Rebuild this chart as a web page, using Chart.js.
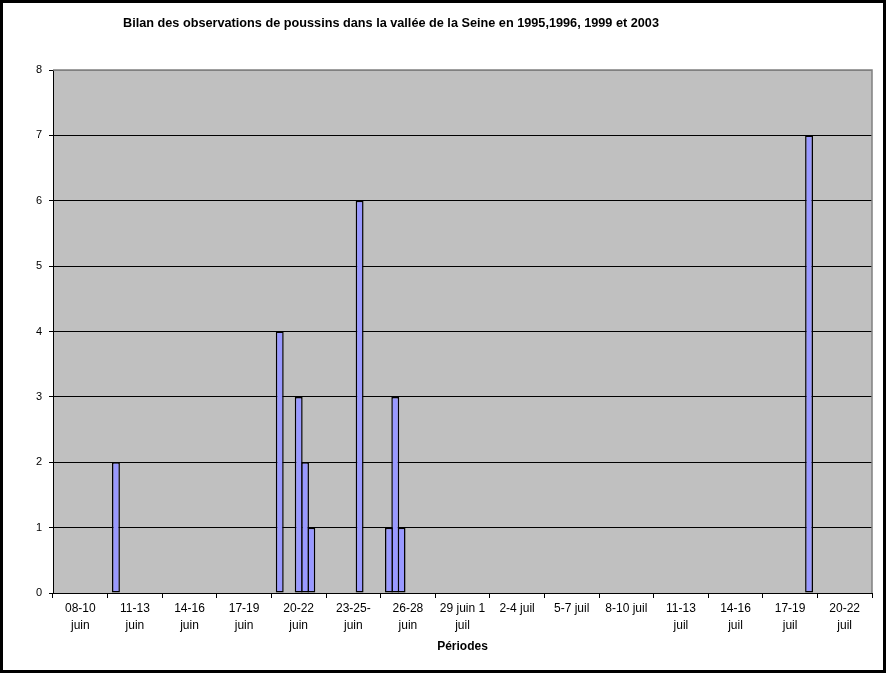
<!DOCTYPE html>
<html>
<head>
<meta charset="utf-8">
<script src="https://cdn.jsdelivr.net/npm/chart.js@4.4.0/dist/chart.umd.min.js"></script>
<style>
  html, body { margin: 0; padding: 0; background: #fff; }
  #chartBox { width: 886px; height: 673px; }
</style>
</head>
<body>
<div id="chartBox"><canvas id="myChart" width="886" height="673"></canvas></div>
<script>
// Texts
const chartTitle = 'Bilan des observations de poussins dans la vallée de la Seine en 1995,1996, 1999 et 2003';
const axisTitle = 'Périodes';

// Periods (x axis, two-line labels like in the original)
const periodes = [
    ['08-10', 'juin'], ['11-13', 'juin'], ['14-16', 'juin'], ['17-19', 'juin'],
    ['20-22', 'juin'], ['23-25-', 'juin'], ['26-28', 'juin'], ['29 juin 1', 'juil'],
    '2-4 juil', '5-7 juil', '8-10 juil', ['11-13', 'juil'],
    ['14-16', 'juil'], ['17-19', 'juil'], ['20-22', 'juil']
];

// Counts, one array per series (null = nothing observed)
const serie1 = [null, 2, null, null, 4, null, 1, null, null, null, null, null, null, null, null];
const serie2 = [null, null, null, null, null, null, 3, null, null, null, null, null, null, null, null];
const serie3 = [null, null, null, null, null, null, 1, null, null, null, null, null, null, null, null];
const serie4 = [null, null, null, null, 3, null, null, null, null, null, null, null, null, null, null];
const serie5 = [null, null, null, null, 2, 6, null, null, null, null, null, null, null, null, null];
const serie6 = [null, null, null, null, 1, null, null, null, null, null, null, null, null, null, null];
const serie7 = [null, null, null, null, null, null, null, null, null, null, null, null, null, 7, null];

const allSeries = [serie1, serie2, serie3, serie4, serie5, serie6, serie7];

// Y axis range
const yMin = 0;
const yMax = 8;
const yStep = 1;

// Gray plot area, frame, title and outer border
const plotFrame = {
    id: 'plotFrame',
    beforeDraw(chart) {
        const { ctx, chartArea: a, width, height } = chart;
        ctx.save();
        ctx.fillStyle = '#ffffff';
        ctx.fillRect(0, 0, width, height);
        ctx.fillStyle = '#c0c0c0';
        ctx.fillRect(a.left, a.top, a.right - a.left, a.bottom - a.top);
        ctx.restore();
    },
    beforeDatasetsDraw(chart) {
        const { ctx, chartArea: a } = chart;
        ctx.save();
        ctx.strokeStyle = '#808080';
        ctx.lineWidth = 1.5;
        ctx.beginPath();
        ctx.moveTo(a.left, a.top);
        ctx.lineTo(a.right, a.top);
        ctx.lineTo(a.right, a.bottom);
        ctx.stroke();
        ctx.restore();
    },
    afterDraw(chart) {
        const { ctx, width, height } = chart;
        ctx.save();
        ctx.fillStyle = '#000';
        ctx.font = 'bold 12.7px "Liberation Sans", Arial, sans-serif';
        ctx.textAlign = 'center';
        ctx.textBaseline = 'middle';
        ctx.fillText(chartTitle, 391, 23);
        // outer border
        ctx.fillRect(0, 0, width, 3);
        ctx.fillRect(0, height - 3, width, 3);
        ctx.fillRect(0, 0, 3, height);
        ctx.fillRect(width - 3, 0, 3, height);
        ctx.restore();
    }
};

const ctx = document.getElementById('myChart').getContext('2d');

const myChart = new Chart(ctx, {
    type: 'bar',
    data: {
        labels: periodes,
        datasets: allSeries.map((values, i) => ({
            label: 'Série ' + (i + 1),
            data: values,
            backgroundColor: '#9999ff',
            borderColor: '#000000',
            borderWidth: 1.5,
            borderSkipped: false,
            categoryPercentage: 0.81,
            barPercentage: 1.25
        }))
    },
    options: {
        responsive: false,
        devicePixelRatio: 1,
        animation: false,
        layout: {
            padding: { left: 3, right: 14, top: 70, bottom: 3 }
        },
        plugins: {
            legend: { display: false },
            title: { display: false },
            tooltip: { enabled: false }
        },
        scales: {
            x: {
                grid: {
                    drawOnChartArea: false,
                    color: '#000',
                    tickLength: 5
                },
                border: { color: '#000', width: 1 },
                ticks: {
                    color: '#000',
                    autoSkip: false,
                    maxRotation: 0,
                    padding: 2,
                    font: { family: '"Liberation Sans", Arial, sans-serif', size: 12, lineHeight: 1.45 }
                },
                title: {
                    display: true,
                    text: axisTitle,
                    color: '#000',
                    font: { family: '"Liberation Sans", Arial, sans-serif', size: 12, weight: 'bold' },
                    padding: { top: 0, bottom: 16 }
                },
                afterFit(scale) {
                    scale.height = 77;
                }
            },
            y: {
                min: yMin,
                max: yMax,
                grid: {
                    color: (c) => (c.tick && c.tick.value === yMax) ? '#808080' : '#000',
                    tickColor: '#000',
                    tickLength: 4,
                    lineWidth: 1
                },
                border: { color: '#000', width: 1 },
                ticks: {
                    stepSize: yStep,
                    color: '#000',
                    padding: 7,
                    font: { family: '"Liberation Sans", Arial, sans-serif', size: 11 }
                },
                afterFit(scale) {
                    scale.width = 50;
                }
            }
        }
    },
    plugins: [plotFrame]
});
</script>
</body>
</html>
